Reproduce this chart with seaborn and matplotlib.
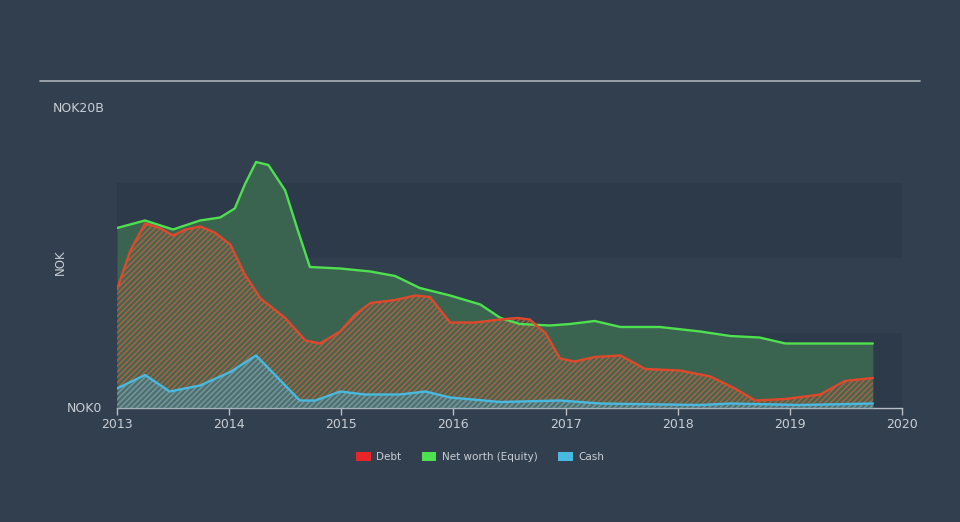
import matplotlib
matplotlib.use("Agg")
import matplotlib.pyplot as plt
import seaborn as sns
import pandas as pd
from matplotlib.patches import Patch

# ---- data (NOK billions) ----
nw_x = [2013.0, 2013.25, 2013.5, 2013.74, 2013.92, 2014.05, 2014.14, 2014.24, 2014.35, 2014.5,
        2014.61, 2014.72, 2014.99, 2015.26, 2015.48, 2015.70, 2015.97, 2016.24, 2016.42, 2016.59,
        2016.86, 2017.04, 2017.26, 2017.49, 2017.84, 2018.20, 2018.47, 2018.73, 2018.96, 2019.27, 2019.74]
nw_y = [12.0, 12.5, 11.9, 12.5, 12.7, 13.3, 14.9, 16.4, 16.2, 14.5,
        11.9, 9.4, 9.3, 9.1, 8.8, 8.0, 7.5, 6.9, 6.0, 5.6,
        5.5, 5.6, 5.8, 5.4, 5.4, 5.1, 4.8, 4.7, 4.3, 4.3, 4.3]

debt_x = [2013.0, 2013.12, 2013.25, 2013.38, 2013.5, 2013.61, 2013.74, 2013.87, 2014.01, 2014.14,
          2014.28, 2014.5, 2014.68, 2014.81, 2014.99, 2015.12, 2015.26, 2015.48, 2015.66, 2015.79,
          2015.97, 2016.19, 2016.42, 2016.57, 2016.68, 2016.82, 2016.95, 2017.08, 2017.26, 2017.49,
          2017.71, 2018.02, 2018.29, 2018.51, 2018.69, 2018.96, 2019.27, 2019.49, 2019.74]
debt_y = [7.9, 10.5, 12.3, 12.0, 11.5, 11.9, 12.1, 11.7, 10.9, 8.9,
          7.3, 6.0, 4.5, 4.3, 5.1, 6.2, 7.0, 7.2, 7.5, 7.4,
          5.7, 5.7, 5.9, 6.0, 5.9, 5.0, 3.3, 3.1, 3.4, 3.5,
          2.6, 2.5, 2.1, 1.3, 0.5, 0.6, 0.9, 1.8, 2.0]

cash_x = [2013.0, 2013.25, 2013.47, 2013.74, 2014.01, 2014.24, 2014.41, 2014.63, 2014.77, 2014.99,
          2015.21, 2015.52, 2015.75, 2015.97, 2016.42, 2016.95, 2017.31, 2018.20, 2018.47, 2019.09, 2019.74]
cash_y = [1.3, 2.2, 1.1, 1.5, 2.4, 3.5, 2.2, 0.5, 0.5, 1.1,
          0.9, 0.9, 1.1, 0.7, 0.4, 0.5, 0.3, 0.2, 0.3, 0.2, 0.3]

years = [2013, 2014, 2015, 2016, 2017, 2018, 2019, 2020]
labels = ["Debt", "Net worth (Equity)", "Cash"]

BG = "#323f4f"
BAND = "#2d3a4a"
TXT = "#c9ced4"
C_DEBT_LEG = "#e8262a"
C_DEBT = "#e0482c"
C_NW = "#4fe04f"
C_CASH = "#48b9e0"

sns.set_theme(style="dark")
plt.rcParams["font.family"] = ["DejaVu Sans"]
plt.rcParams["hatch.linewidth"] = 1.0

fig = plt.figure(figsize=(9.6, 5.22), dpi=100, facecolor=BG)
ax = fig.add_axes([117/960, 114/522, 785/960, 300/522])
ax.set_facecolor(BG)

# bands
for lo, hi in [(0, 5), (10, 15)]:
    ax.axhspan(lo, hi, color=BAND, zorder=0, lw=0)

nw = pd.DataFrame({"x": nw_x, "y": nw_y})
debt = pd.DataFrame({"x": debt_x, "y": debt_y})
cash = pd.DataFrame({"x": cash_x, "y": cash_y})

ax.fill_between(nw.x, 0, nw.y, color="#3a6450", lw=0, zorder=1)
ax.fill_between(debt.x, 0, debt.y, facecolor="#5a6a58", alpha=0.35, lw=0, zorder=2)
ax.fill_between(debt.x, 0, debt.y, facecolor="none", edgecolor="#b4603c", hatch="//////", lw=0, zorder=2)
ax.fill_between(cash.x, 0, cash.y, facecolor="#5a8090", alpha=0.45, lw=0, zorder=3)
ax.fill_between(cash.x, 0, cash.y, facecolor="none", edgecolor="#6a9aa8", hatch="//////", lw=0, zorder=3)

sns.lineplot(data=nw, x="x", y="y", color=C_NW, lw=1.7, ax=ax, zorder=4)
sns.lineplot(data=debt, x="x", y="y", color=C_DEBT, lw=1.7, ax=ax, zorder=5)
sns.lineplot(data=cash, x="x", y="y", color=C_CASH, lw=1.7, ax=ax, zorder=6)

ax.set_xlim(2013, 2020)
ax.set_ylim(0, 20)
ax.set_xticks(years)
ax.set_xticklabels([str(y) for y in years], color=TXT, fontsize=9)
ax.set_yticks([])
ax.set_xlabel("")
ax.set_ylabel("")
ax.tick_params(axis="x", colors="#b8bec6", length=5, width=1, direction="out", bottom=True, pad=2, labelcolor=TXT)
for s in ["top", "left", "right"]:
    ax.spines[s].set_visible(False)
ax.spines["bottom"].set_color("#b8bec6")
ax.spines["bottom"].set_linewidth(1)
ax.grid(False)

fig.text(102/960, 1 - 408/522, "NOK0", color=TXT, fontsize=9, ha="right", va="center")
fig.text(53/960, 1 - 108/522, "NOK20B", color=TXT, fontsize=9, ha="left", va="center")
fig.text(60/960, 1 - 262/522, "NOK", color=TXT, fontsize=8.5, rotation=90, ha="center", va="center")

# top rule
fig.add_artist(plt.Line2D([40/960, 920/960], [1 - 81/522, 1 - 81/522], color="#aab0b8", lw=1.2))

handles = [Patch(facecolor=C_DEBT_LEG, edgecolor="none", label=labels[0]),
           Patch(facecolor=C_NW, edgecolor="none", label=labels[1]),
           Patch(facecolor=C_CASH, edgecolor="none", label=labels[2])]
leg = fig.legend(handles=handles, loc="center", bbox_to_anchor=(480/960, 1 - 457/522), ncol=3,
                 frameon=False, fontsize=7.5, handlelength=1.4, handleheight=1.0,
                 columnspacing=2.0, handletextpad=0.5)
for t in leg.get_texts():
    t.set_color(TXT)

fig.savefig("out.png", dpi=100, facecolor=BG)
